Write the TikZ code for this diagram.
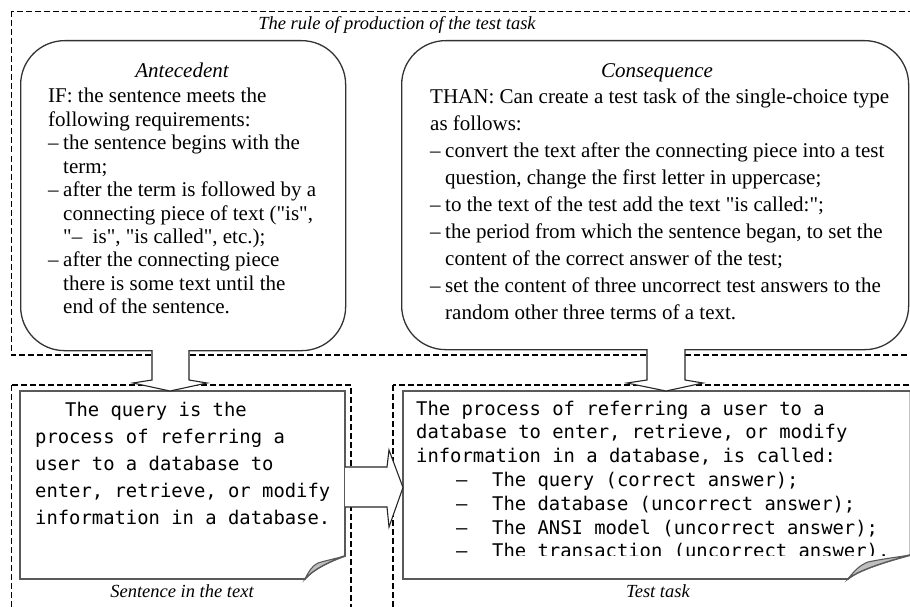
\documentclass[tikz,border=0pt]{standalone}
\usepackage{fontspec}
\setmainfont{Liberation Serif}[Ligatures=TeXOff]
\newfontfamily\monof{DejaVu Sans Mono}
\newcommand\itemdash{\makebox[15pt][l]{–}}
\newcommand\itemind{\hspace*{15pt}}
\newcommand\monodash{\hspace*{40pt}\makebox[36pt][l]{–}}
\tikzset{
 dashbox/.style={draw=black, line width=1.6pt, dash pattern=on 6pt off 3pt},
 rbox/.style={draw=black!80, line width=1.3pt, rounded corners=44pt, fill=white, inner sep=0pt, anchor=north west},
 notebox/.style={draw=black!65, line width=1.8pt, fill=white},
 foldpart/.style={draw=black!65, line width=1.1pt, fill=black!25},
 blockarrow/.style={draw=black!85, line width=1.1pt, fill=white},
 bodytext/.style={anchor=base west, inner sep=0pt, font=\fontsize{21}{24}\selectfont},
 headtext/.style={anchor=base, inner sep=0pt, font=\fontsize{21}{24}\selectfont\itshape},
 captext/.style={anchor=base, inner sep=0pt, font=\fontsize{18.5}{20}\selectfont\itshape},
 monotext/.style={anchor=base west, inner sep=0pt, font=\fontsize{18.85}{22}\selectfont\monof},
}
\begin{document}
\begin{tikzpicture}[x=1pt,y=-1pt]
\useasboundingbox (0,0) rectangle (910,607);
\fill[white] (0,0) rectangle (910,607);

% dashed frames
\draw[dashbox] (11.5,11.5) rectangle (920,355);
\draw[dashbox] (11.5,385) rectangle (351,620);
\draw[dashbox] (393,385) rectangle (920,620);

\node[captext] (title) at (397,30) {The rule of production of the test task};

% rule boxes
\node[rbox, minimum width=325pt, minimum height=310pt] (ante) at (20,40) {};
\node[rbox, minimum width=507pt, minimum height=309pt] (cons) at (401,40) {};

\node[headtext] (anteh) at (182,78) {Antecedent};
\foreach \t [count=\i] in {
 {IF: the sentence meets the},
 {following requirements:},
 {\itemdash the sentence begins with the},
 {\itemind term;},
 {\itemdash after the term is followed by a},
 {\itemind connecting piece of text ("is",},
 {\itemind "–\enspace is", "is called", etc.);},
 {\itemdash after the connecting piece},
 {\itemind there is some text until the},
 {\itemind end of the sentence.}}
 \node[bodytext] (al\i) at (48,{103+23.4*(\i-1)}) {\t};

\node[headtext] (consh) at (657,78) {Consequence};
\foreach \t [count=\i] in {
 {THAN: Can create a test task of the single-choice type},
 {as follows:},
 {\itemdash convert the text after the connecting piece into a test},
 {\itemind question, change the first letter in uppercase;},
 {\itemdash to the text of the test add the text "is called:";},
 {\itemdash the period from which the sentence began, to set the},
 {\itemind content of the correct answer of the test;},
 {\itemdash set the content of three uncorrect test answers to the},
 {\itemind random other three terms of a text.}}
 \node[bodytext] (cl\i) at (430,{104+26.9*(\i-1)}) {\t};

% notes
\draw[notebox] (20,391) -- (345,391) -- (345,556)
  .. controls (330,561) and (312,570) .. (305,579) -- (20,579) -- cycle;
\draw[foldpart] (305,579) .. controls (309,571) and (312,566) .. (318,563)
  .. controls (328,560) and (338,558) .. (345,556)
  .. controls (330,561) and (312,570) .. (305,579) -- cycle;

\draw[notebox] (403,391) -- (910.5,391) -- (910.5,555)
  .. controls (888,561) and (858,570) .. (848,579) -- (403,579) -- cycle;
\draw[foldpart] (848,579) .. controls (854,571) and (860,565) .. (868,562)
  .. controls (882,559) and (898,557) .. (910.5,555)
  .. controls (888,561) and (858,570) .. (848,579) -- cycle;

\foreach \t [count=\i] in {
 {\hspace*{30pt}The query is the},
 {process of referring a},
 {user to a database to},
 {enter, retrieve, or modify},
 {information in a database.}}
 \node[monotext] (sl\i) at (35,{416+27*(\i-1)}) {\t};

\begin{scope}
\clip (403,391) rectangle (910,555);
\foreach \t [count=\i] in {
 {The process of referring a user to a},
 {database to enter, retrieve, or modify},
 {information in a database, is called:},
 {\monodash The query (correct answer);},
 {\monodash The database (uncorrect answer);},
 {\monodash The ANSI model (uncorrect answer);},
 {\monodash The transaction (uncorrect answer).}}
 \node[monotext] (tl\i) at (416,{415+23.8*(\i-1)}) {\t};
\end{scope}

\node[captext] (capl) at (182,597) {Sentence in the text};
\node[captext] (capr) at (658,597) {Test task};

% block arrows
\filldraw[blockarrow] (152,350) -- (152,380) -- (133,383) -- (170,391) -- (207,383) -- (189,380) -- (189,350);
\filldraw[blockarrow] (647,349) -- (647,380) -- (627,383) -- (666,391) -- (703,383) -- (685,380) -- (685,349);
\filldraw[blockarrow] (345,467) -- (387,467) -- (389,450) -- (403,487.5) -- (389,527) -- (387,507) -- (345,507);
\end{tikzpicture}
\end{document}
